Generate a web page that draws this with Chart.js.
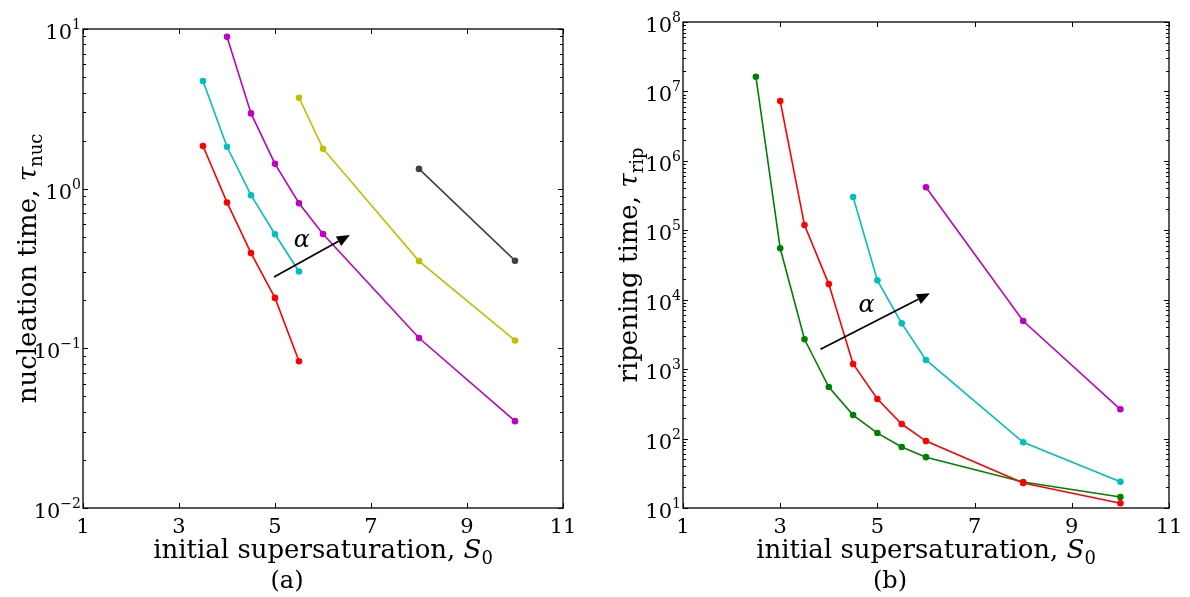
<!DOCTYPE html>
<html>
<head>
<meta charset="utf-8">
<script src="https://cdn.jsdelivr.net/npm/chart.js@4.4.0/dist/chart.umd.min.js"></script>
<style>
  html, body { margin: 0; padding: 0; background: #fff; }
  #wrap { position: relative; width: 1190px; height: 597px; }
  .panel { position: absolute; top: 0; width: 595px; height: 597px; }
</style>
</head>
<body>
<div id="wrap">
  <div class="panel" style="left:0"><canvas id="nuc" width="595" height="597"></canvas></div>
  <div class="panel" style="left:595px"><canvas id="rip" width="595" height="597"></canvas></div>
</div>
<script>
// (a) nucleation time vs initial supersaturation, one pair per alpha
const nucS1 = [3.5, 4, 4.5, 5, 5.5];
const nucT1 = [1.85, 0.82, 0.395, 0.207, 0.083];
const nucS2 = [3.5, 4, 4.5, 5, 5.5];
const nucT2 = [4.72, 1.83, 0.91, 0.518, 0.303];
const nucS3 = [4, 4.5, 5, 5.5, 6, 8, 10];
const nucT3 = [8.93, 2.96, 1.43, 0.81, 0.52, 0.116, 0.035];
const nucS4 = [5.5, 6, 8, 10];
const nucT4 = [3.71, 1.78, 0.352, 0.112];
const nucS5 = [8, 10];
const nucT5 = [1.33, 0.354];

// (b) ripening time vs initial supersaturation
const ripS1 = [3, 3.5, 4, 4.5, 5, 5.5, 6, 8, 10];
const ripT1 = [7.28e6, 1.19e5, 1.68e4, 1186, 372, 162, 92, 22.9, 11.7];
const ripS2 = [2.5, 3, 3.5, 4, 4.5, 5, 5.5, 6, 8, 10];
const ripT2 = [1.63e7, 5.5e4, 2690, 553, 218, 120, 75.6, 54, 23.7, 14.4];
const ripS3 = [4.5, 5, 5.5, 6, 8, 10];
const ripT3 = [3.01e5, 1.9e4, 4570, 1355, 88.4, 23.9];
const ripS4 = [6, 8, 10];
const ripT4 = [4.16e5, 4930, 264];

const xTicks = [1, 3, 5, 7, 9, 11];

// "increasing alpha" arrows: x0, y0, x1, y1 and label position
const nucArrow = [4.98, 0.28, 6.56, 0.513];
const nucAlpha = [5.56, 0.47];
const ripArrow = [3.83, 1930, 6.08, 1.24e4];
const ripAlpha = [4.78, 8100];

const SERIF = '"DejaVu Serif", "Liberation Serif", serif';

function series(xs, ys, color) {
  return {
    data: xs.map((x, i) => ({ x: x, y: ys[i] })),
    borderColor: color,
    backgroundColor: color,
    borderWidth: 1.6,
    pointRadius: 3.3,
    pointHoverRadius: 3.3,
    pointBorderWidth: 0,
    tension: 0,
    fill: false
  };
}

// text with sub/superscript pieces: [{t, style, size, dy}]
function drawRich(ctx, segs, x, y, align) {
  let total = 0;
  segs.forEach(s => {
    ctx.font = (s.style || '') + ' ' + s.size + 'px ' + SERIF;
    s.w = ctx.measureText(s.t).width;
    total += s.w;
  });
  let cx = align === 'right' ? x - total : x - total / 2;
  ctx.textAlign = 'left';
  ctx.textBaseline = 'alphabetic';
  segs.forEach(s => {
    ctx.font = (s.style || '') + ' ' + s.size + 'px ' + SERIF;
    ctx.fillText(s.t, cx, y + (s.dy || 0));
    cx += s.w;
  });
}

function framePlugin(cfg) {
  return {
    id: 'frame',
    afterDraw(chart) {
      const ctx = chart.ctx;
      const { left, right, top, bottom } = chart.chartArea;
      const xs = chart.scales.x, ys = chart.scales.y;
      const line = (x0, y0, x1, y1) => { ctx.beginPath(); ctx.moveTo(x0, y0); ctx.lineTo(x1, y1); ctx.stroke(); };
      ctx.save();
      ctx.fillStyle = '#000';
      ctx.strokeStyle = '#000';

      // arrow
      const a = cfg.arrow;
      const ax0 = xs.getPixelForValue(a[0]), ay0 = ys.getPixelForValue(a[1]);
      const ax1 = xs.getPixelForValue(a[2]), ay1 = ys.getPixelForValue(a[3]);
      const ang = Math.atan2(ay1 - ay0, ax1 - ax0);
      const hl = 13, hw = 5.5;
      ctx.lineWidth = 1.7;
      line(ax0, ay0, ax1 - hl * Math.cos(ang), ay1 - hl * Math.sin(ang));
      ctx.beginPath();
      ctx.moveTo(ax1, ay1);
      ctx.lineTo(ax1 - hl * Math.cos(ang) + hw * Math.sin(ang), ay1 - hl * Math.sin(ang) - hw * Math.cos(ang));
      ctx.lineTo(ax1 - hl * Math.cos(ang) - hw * Math.sin(ang), ay1 - hl * Math.sin(ang) + hw * Math.cos(ang));
      ctx.closePath();
      ctx.fill();
      ctx.font = 'italic 24px ' + SERIF;
      ctx.textAlign = 'center';
      ctx.textBaseline = 'middle';
      ctx.fillText('α', xs.getPixelForValue(cfg.alpha[0]), ys.getPixelForValue(cfg.alpha[1]));

      // box
      ctx.lineWidth = 1.3;
      ctx.strokeRect(left, top, right - left, bottom - top);

      // inward ticks
      ctx.lineWidth = 1;
      xTicks.forEach(v => {
        const px = Math.round(xs.getPixelForValue(v)) + 0.5;
        line(px, bottom, px, bottom - 5);
        line(px, top, px, top + 5);
      });
      for (let e = cfg.eMin; e <= cfg.eMax; e++) {
        for (let m = 1; m < 10; m++) {
          if (e === cfg.eMax && m > 1) break;
          const py = Math.round(ys.getPixelForValue(m * Math.pow(10, e))) + 0.5;
          const len = m === 1 ? 5 : 3;
          line(left, py, left + len, py);
          line(right, py, right - len, py);
        }
      }

      // x tick labels
      ctx.font = '21px ' + SERIF;
      ctx.textAlign = 'center';
      ctx.textBaseline = 'alphabetic';
      xTicks.forEach(v => ctx.fillText(String(v), xs.getPixelForValue(v), bottom + 25));

      // y tick labels, 10^e
      for (let e = cfg.eMin; e <= cfg.eMax; e++) {
        const py = ys.getPixelForValue(Math.pow(10, e));
        const ex = e < 0 ? '\u2212' + (-e) : String(e);
        drawRich(ctx, [
          { t: '10', size: 21, dy: 10 },
          { t: ex, size: 14, dy: 0 }
        ], left - 2, py, 'right');
      }

      // axis titles
      drawRich(ctx, [
        { t: 'initial supersaturation, ', size: 26 },
        { t: 'S', style: 'italic', size: 26 },
        { t: '0', size: 18, dy: 6 }
      ], (left + right) / 2, 558, 'center');
      drawRich(ctx, [{ t: cfg.tag, size: 24 }], (left + right) / 2 - 36, 588, 'center');

      ctx.save();
      ctx.translate(cfg.yTitleX, (top + bottom) / 2);
      ctx.rotate(-Math.PI / 2);
      drawRich(ctx, [
        { t: cfg.yTitle, size: 26 },
        { t: 'τ', style: 'italic', size: 26 },
        { t: cfg.ySub, size: 18, dy: 6 }
      ], 0, 0, 'center');
      ctx.restore();

      ctx.restore();
    }
  };
}

function makeChart(id, datasets, yMin, yMax, padding, cfg) {
  return new Chart(document.getElementById(id), {
    type: 'line',
    data: { datasets: datasets },
    options: {
      responsive: false,
      animation: false,
      events: [],
      layout: { padding: padding },
      plugins: { legend: { display: false }, tooltip: { enabled: false } },
      scales: {
        x: { type: 'linear', min: 1, max: 11, display: false },
        y: { type: 'logarithmic', min: yMin, max: yMax, display: false }
      }
    },
    plugins: [framePlugin(cfg)]
  });
}

makeChart('nuc', [
  series(nucS1, nucT1, '#ff0000'),
  series(nucS2, nucT2, '#00bfbf'),
  series(nucS3, nucT3, '#bf00bf'),
  series(nucS4, nucT4, '#bfbf00'),
  series(nucS5, nucT5, '#404040')
], 0.01, 10, { left: 83, right: 32, top: 29, bottom: 89 }, {
  eMin: -2, eMax: 1, arrow: nucArrow, alpha: nucAlpha,
  tag: '(a)', yTitle: 'nucleation time, ', ySub: 'nuc', yTitleX: 36
});

makeChart('rip', [
  series(ripS1, ripT1, '#ff0000'),
  series(ripS2, ripT2, '#008000'),
  series(ripS3, ripT3, '#00bfbf'),
  series(ripS4, ripT4, '#bf00bf')
], 10, 1e8, { left: 88, right: 21, top: 22, bottom: 89 }, {
  eMin: 1, eMax: 8, arrow: ripArrow, alpha: ripAlpha,
  tag: '(b)', yTitle: 'ripening time, ', ySub: 'rip', yTitleX: 42
});
</script>
</body>
</html>
